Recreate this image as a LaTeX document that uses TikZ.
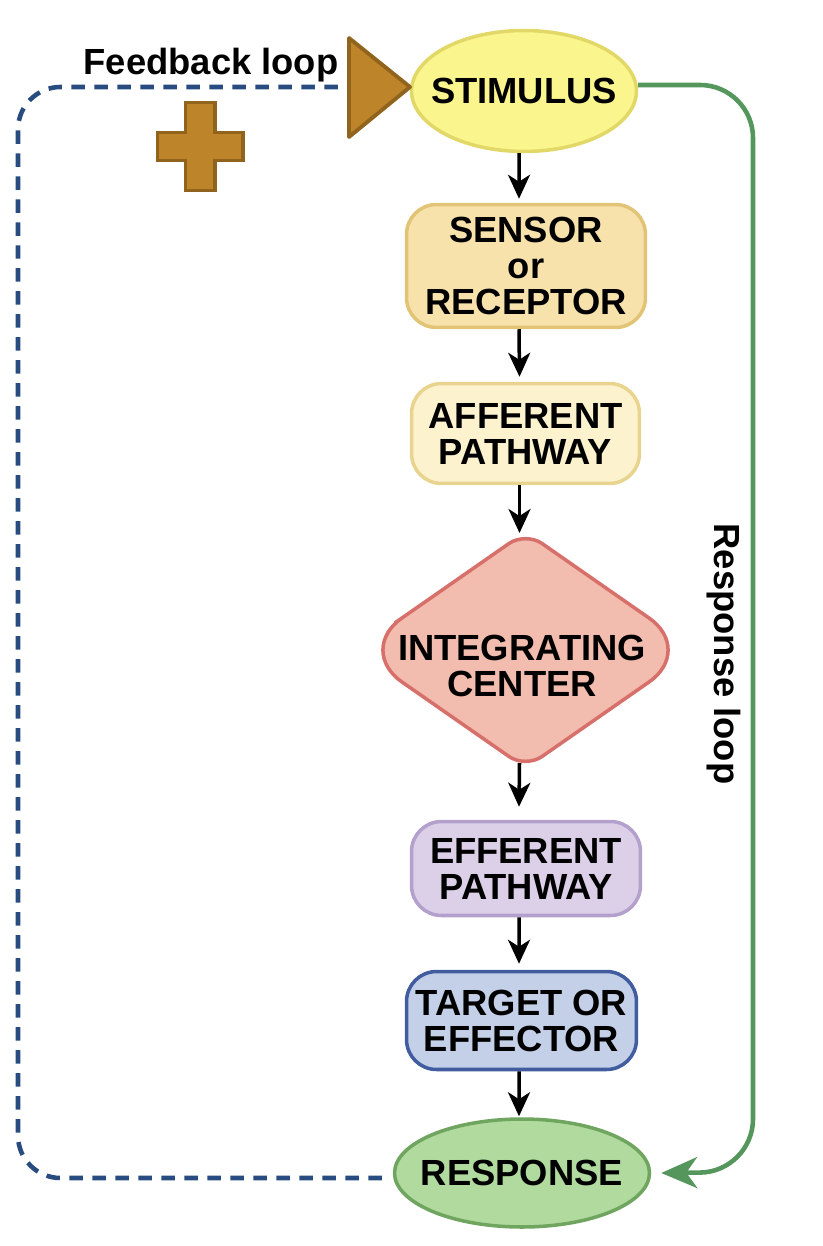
\documentclass[tikz,border=0pt]{standalone}
\usepackage{fontspec}
\setmainfont{Liberation Sans}
\usetikzlibrary{shapes.geometric,arrows.meta}
\definecolor{stimfill}{RGB}{250,245,140}
\definecolor{stimline}{RGB}{226,216,104}
\definecolor{sensfill}{RGB}{248,226,172}
\definecolor{sensline}{RGB}{226,196,118}
\definecolor{afffill}{RGB}{252,242,206}
\definecolor{affline}{RGB}{232,212,142}
\definecolor{intfill}{RGB}{242,188,174}
\definecolor{intline}{RGB}{215,112,106}
\definecolor{efffill}{RGB}{220,208,232}
\definecolor{effline}{RGB}{180,160,205}
\definecolor{tarfill}{RGB}{196,208,232}
\definecolor{tarline}{RGB}{66,92,160}
\definecolor{respfill}{RGB}{176,218,158}
\definecolor{respline}{RGB}{112,165,95}
\definecolor{loopgreen}{RGB}{84,150,92}
\definecolor{loopblue}{RGB}{40,76,128}
\definecolor{markfill}{RGB}{190,132,42}
\definecolor{markline}{RGB}{145,100,30}
\tikzset{
  labeltext/.style={font=\fontsize{20.7}{20.5}\selectfont\bfseries, align=center, text=black, inner sep=0},
  flowbox/.style={labeltext, draw, rectangle, rounded corners=0.6cm, line width=2pt},
  flowoval/.style={labeltext, draw, ellipse, inner xsep=-0.3cm, line width=2pt},
  arrblackline/.style={line width=2pt, -{Stealth[length=0.48cm,width=0.44cm,inset=0.14cm]}},
  markshape/.style={fill=markfill, draw=markline, line width=2.2pt},
}
\newcommand{\drawbox}{\node[flowbox]}
\newcommand{\drawoval}{\node[flowoval]}
\newcommand{\arrblack}{\draw[arrblackline]}
\begin{document}
\begin{tikzpicture}[x=0.02cm, y=-0.02cm]
\useasboundingbox (0,0) rectangle (822,1246);
%flow column
\drawoval[fill=stimfill, draw=stimline, minimum width=4.5cm, minimum height=2.42cm] (stimulus) at (524,91) {STIMULUS};
\drawbox[fill=sensfill, draw=sensline, minimum width=4.78cm, minimum height=2.46cm] (sensor) at (526,266) {SENSOR\\or\\RECEPTOR};
\drawbox[fill=afffill, draw=affline, minimum width=4.56cm, minimum height=2cm] (afferent) at (525.5,433.5) {AFFERENT\\PATHWAY};

%diamond has sharper top and bottom than sides
\coordinate (intTop) at (525.5,532);
\coordinate (intRight) at (695,650);
\coordinate (intBottom) at (525.5,768);
\coordinate (intLeft) at (356,650);
\filldraw[fill=intfill, draw=intline, line width=2pt] (440.75,591) [rounded corners=0.4cm] -- (intTop)
  [rounded corners=1.12cm] -- (intRight) [rounded corners=0.4cm] -- (intBottom)
  [rounded corners=1.12cm] -- (intLeft) -- cycle;
\node[labeltext] (integrating) at (522,666) {INTEGRATING\\CENTER};

\drawbox[fill=efffill, draw=effline, minimum width=4.58cm, minimum height=1.88cm] (efferent) at (526,868.5) {EFFERENT\\PATHWAY};
\drawbox[fill=tarfill, draw=tarline, minimum width=4.6cm, minimum height=1.96cm] (target) at (521.5,1020.5) {TARGET OR\\EFFECTOR};
\drawoval[fill=respfill, draw=respline, minimum width=5.1cm, minimum height=2.16cm] (response) at (522,1173) {RESPONSE};

\arrblack ([xshift=-0.1cm]stimulus.south) -- ([xshift=-0.14cm,yshift=0.08cm]sensor.north);
\arrblack ([xshift=-0.14cm]sensor.south) -- ([xshift=-0.12cm,yshift=0.1cm]afferent.north);
\arrblack ([xshift=-0.12cm]afferent.south) -- ([xshift=-0.12cm,yshift=-0.02cm]intTop);
\arrblack ([xshift=-0.12cm,yshift=0.1cm]intBottom) -- ([xshift=-0.14cm,yshift=0.26cm]efferent.north);
\arrblack ([xshift=-0.14cm]efferent.south) -- ([xshift=-0.05cm,yshift=0.12cm]target.north);
\arrblack ([xshift=-0.05cm]target.south) -- ([xshift=-0.06cm,yshift=0.02cm]response.north);

%response loop
\draw[loopgreen, line width=2.6pt, rounded corners=1.06cm, -{Stealth[length=0.72cm,width=0.62cm,inset=0.22cm]}]
  ([yshift=0.12cm]stimulus.east) -- (753,85) -- (753,1172) -- ([xshift=0.2cm]response.east);
\node[labeltext, rotate=-90] (responselabel) at (724,654) {Response loop};

%feedback loop
\coordinate (feedbackEnd) at (350,87);
\draw[loopblue, line width=2.6pt, dash pattern=on 0.27cm off 0.19cm, rounded corners=0.85cm]
  ([xshift=-0.22cm,yshift=-0.1cm]response.west) -- (18,1178) -- (18,87) -- (feedbackEnd);
\node[labeltext] (feedbacklabel) at (211,65) {Feedback loop};

\draw[markshape, line join=round] (349,38) -- (410,87) -- (349,137) -- cycle;
\draw[markshape, line join=miter] (185.5,102.5) -- (215,102.5) -- (215,132.5) -- (243,132.5) -- (243,160.5)
  -- (215,160.5) -- (215,190.5) -- (185.5,190.5) -- (185.5,160.5) -- (157.5,160.5) -- (157.5,132.5) -- (185.5,132.5) -- cycle;
\end{tikzpicture}
\end{document}
